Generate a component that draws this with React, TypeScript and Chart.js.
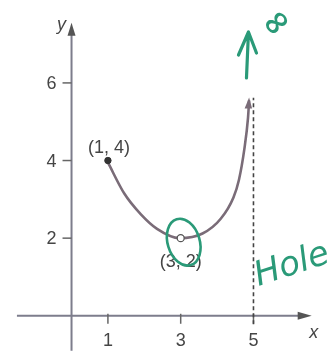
import React, { useEffect, useRef } from "react";
import { Chart, registerables } from "chart.js";

Chart.register(...registerables);

// Curve samples
const curveX = [1, 1.45, 1.9, 2.35, 2.97, 3.6, 4.1, 4.45, 4.6, 4.75, 4.85, 4.88];
const curveY = [3.95, 3.15, 2.62, 2.24, 2.0, 2.12, 2.5, 3.05, 3.5, 4.3, 5.1, 5.55];

const xTicks = [1, 3, 5];
const yTicks = [2, 4, 6];

const solidPoint = { x: 1, y: 4 };
const holePoint = { x: 3, y: 2 };
const solidLabel = "(1, 4)";
const holeLabel = "(3, 2)";

const asymptoteX = 5;
const asymptoteY = [-0.22, 5.62];

const xRange = [-1.82, 6.875];
const yRange = [-0.9, 8.0];
const xAxisExtent = [-1.5, 6.6];
const yAxisExtent = [-0.9, 7.55];

const inkText = "#454545";
const axisColor = "#7d7d8c";
const curveColor = "#7a6c78";
const green = "#2a9a78";

const axesPlugin = {
  id: "axesPlugin",
  beforeDatasetsDraw(chart: any) {
    const { ctx, scales } = chart;
    const xs = scales.x;
    const ys = scales.y;
    const px = (v: number) => xs.getPixelForValue(v);
    const py = (v: number) => ys.getPixelForValue(v);
    const x0 = px(0);
    const y0 = py(0);
    ctx.save();
    ctx.strokeStyle = axisColor;
    ctx.fillStyle = "#555";
    ctx.lineWidth = 2;
    // x axis
    ctx.beginPath();
    ctx.moveTo(px(xAxisExtent[0]), y0);
    ctx.lineTo(px(xAxisExtent[1]) - 6, y0);
    ctx.stroke();
    const xt = px(xAxisExtent[1]);
    ctx.beginPath();
    ctx.moveTo(xt, y0);
    ctx.lineTo(xt - 14, y0 - 4);
    ctx.lineTo(xt - 14, y0 + 4);
    ctx.closePath();
    ctx.fill();
    // y axis
    ctx.beginPath();
    ctx.moveTo(x0, py(yAxisExtent[0]));
    ctx.lineTo(x0, py(yAxisExtent[1]) + 6);
    ctx.stroke();
    const yt = py(yAxisExtent[1]);
    ctx.beginPath();
    ctx.moveTo(x0, yt);
    ctx.lineTo(x0 - 4, yt + 13);
    ctx.lineTo(x0 + 4, yt + 13);
    ctx.closePath();
    ctx.fill();
    // ticks
    ctx.strokeStyle = "#666";
    ctx.lineWidth = 1.5;
    ctx.font = "18px 'Liberation Sans', Arial, sans-serif";
    ctx.fillStyle = inkText;
    ctx.textBaseline = "middle";
    yTicks.forEach((t) => {
      const y = py(t);
      ctx.beginPath();
      ctx.moveTo(x0 - 9, y);
      ctx.lineTo(x0, y);
      ctx.stroke();
      ctx.textAlign = "right";
      ctx.fillText(String(t), x0 - 15, y + 1);
    });
    xTicks.forEach((t) => {
      const x = px(t);
      ctx.beginPath();
      ctx.moveTo(x, y0 - 2);
      ctx.lineTo(x, y0 + 8);
      ctx.stroke();
      ctx.textAlign = "center";
      ctx.fillText(String(t), x, y0 + 25);
    });
    // axis names
    ctx.font = "italic 18px 'Liberation Sans', Arial, sans-serif";
    ctx.textAlign = "center";
    ctx.fillText("x", px(xAxisExtent[1]) + 2, y0 + 17);
    ctx.fillText("y", x0 - 10, yt + 2);
    ctx.restore();
  },
  afterDatasetsDraw(chart: any) {
    const { ctx, scales } = chart;
    const xs = scales.x;
    const ys = scales.y;
    const px = (v: number) => xs.getPixelForValue(v);
    const py = (v: number) => ys.getPixelForValue(v);
    ctx.save();
    // arrowhead at curve end
    const n = curveX.length;
    const ex = px(curveX[n - 1]);
    const ey = py(curveY[n - 1]);
    ctx.fillStyle = curveColor;
    ctx.beginPath();
    ctx.moveTo(ex, ey - 3);
    ctx.lineTo(ex - 4.5, ey + 8);
    ctx.lineTo(ex + 3, ey + 8);
    ctx.closePath();
    ctx.fill();
    // point labels
    ctx.font = "18px 'Liberation Sans', Arial, sans-serif";
    ctx.fillStyle = inkText;
    ctx.textAlign = "center";
    ctx.textBaseline = "middle";
    ctx.fillText(solidLabel, px(solidPoint.x) + 1, py(solidPoint.y) - 13);
    ctx.fillText(holeLabel, px(holePoint.x), py(holePoint.y) + 24);
    ctx.restore();
  },
  afterDraw(chart: any) {
    const { ctx, scales } = chart;
    const xs = scales.x;
    const ys = scales.y;
    const px = (v: number) => xs.getPixelForValue(v);
    const py = (v: number) => ys.getPixelForValue(v);
    ctx.save();
    ctx.strokeStyle = green;
    ctx.fillStyle = green;
    ctx.lineWidth = 2.6;
    ctx.lineCap = "round";
    ctx.lineJoin = "round";
    // ellipse around the hole
    ctx.beginPath();
    ctx.ellipse(px(holePoint.x) + 3, py(holePoint.y) + 4, 16, 24, -0.3, 0, Math.PI * 2);
    ctx.stroke();
    // upward arrow near the asymptote
    const ax = px(asymptoteX) - 6;
    ctx.lineWidth = 3.2;
    ctx.beginPath();
    ctx.moveTo(ax - 1, 78);
    ctx.lineTo(ax + 1, 32);
    ctx.moveTo(ax - 9, 55);
    ctx.lineTo(ax + 1, 32);
    ctx.lineTo(ax + 9, 53);
    ctx.stroke();
    // infinity
    ctx.save();
    ctx.translate(ax + 30, 24);
    ctx.rotate(-0.7);
    ctx.font = "bold 34px 'DejaVu Sans', sans-serif";
    ctx.textAlign = "center";
    ctx.textBaseline = "middle";
    ctx.fillText("∞", 0, 0);
    ctx.restore();
    // "Hole"
    ctx.save();
    ctx.translate(px(asymptoteX) + 5, 286);
    ctx.rotate(-0.32);
    ctx.font = "italic 34px 'DejaVu Sans', sans-serif";
    ctx.textAlign = "left";
    ctx.textBaseline = "alphabetic";
    ctx.fillText("Hole", 0, 0);
    ctx.restore();
    ctx.restore();
  },
};

export default function App() {
  const ref = useRef<HTMLCanvasElement | null>(null);
  useEffect(() => {
    if (!ref.current) return;
    const chart = new Chart(ref.current, {
      type: "line",
      data: {
        datasets: [
          {
            label: "f(x)",
            data: curveX.map((x, i) => ({ x, y: curveY[i] })),
            borderColor: curveColor,
            borderWidth: 2.6,
            pointRadius: 0,
            cubicInterpolationMode: "monotone",
            fill: false,
            order: 3,
          },
          {
            label: "asymptote",
            data: asymptoteY.map((y) => ({ x: asymptoteX, y })),
            borderColor: "#444",
            borderWidth: 1.6,
            borderDash: [4, 3],
            pointRadius: 0,
            fill: false,
            order: 4,
          },
          {
            label: "point",
            data: [solidPoint],
            showLine: false,
            pointRadius: 3.2,
            pointBackgroundColor: "#333",
            pointBorderColor: "#333",
            order: 1,
          },
          {
            label: "hole",
            data: [holePoint],
            showLine: false,
            pointRadius: 3.5,
            pointBackgroundColor: "#fff",
            pointBorderColor: "#555",
            pointBorderWidth: 1.3,
            order: 0,
          },
        ],
      },
      options: {
        animation: false,
        responsive: false,
        devicePixelRatio: 1,
        layout: { padding: 0 },
        plugins: { legend: { display: false }, tooltip: { enabled: false } },
        scales: {
          x: { type: "linear", display: false, min: xRange[0], max: xRange[1] },
          y: { type: "linear", display: false, min: yRange[0], max: yRange[1] },
        },
      },
      plugins: [axesPlugin],
    } as any);
    return () => chart.destroy();
  }, []);
  return (
    <div style={{ position: "fixed", left: 0, top: 0, width: 327, height: 356, background: "#fff" }}>
      <canvas ref={ref} width={327} height={356} style={{ display: "block" }} />
    </div>
  );
}
